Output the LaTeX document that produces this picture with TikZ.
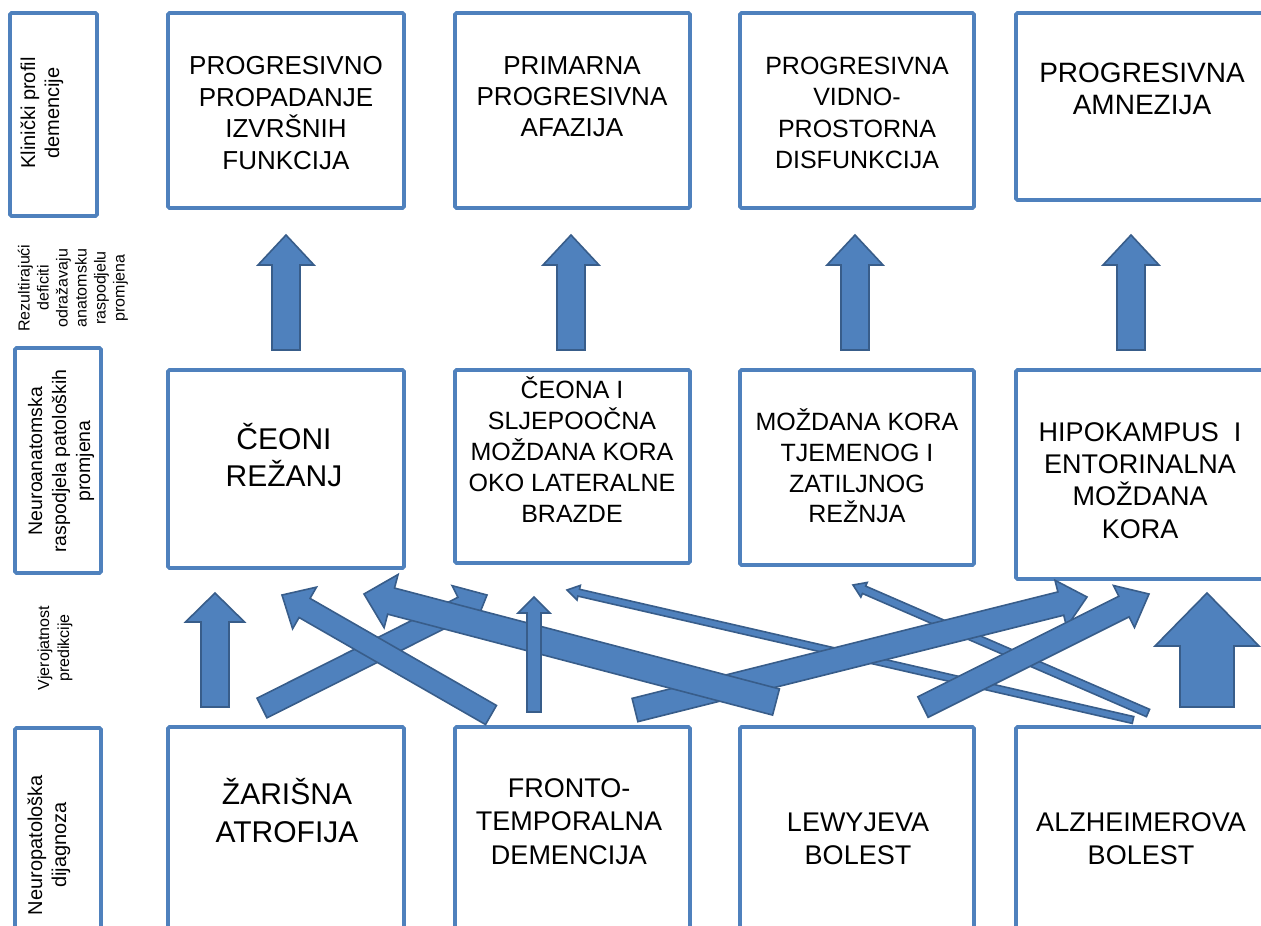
\documentclass[tikz,border=0pt]{standalone}
\usepackage{fontspec}
\setmainfont{Liberation Sans}
\usetikzlibrary{calc}
\definecolor{boxblue}{HTML}{4F81BD}
\definecolor{arrowedge}{HTML}{385D8A}
\newcommand{\sz}[2]{\fontsize{#1}{#2}\selectfont}
% tail, tip, half shaft, half head, head length
\newcommand{\blockarrow}[5]{%
  \coordinate (neck) at ($(#2)!#5pt!(#1)$);
  \draw[blockarr] ($(#1)!#3pt!90:(#2)$) -- ($(neck)!#3pt!90:(#2)$) -- ($(neck)!#4pt!90:(#2)$) -- (#2)
    -- ($(neck)!#4pt!-90:(#2)$) -- ($(neck)!#3pt!-90:(#2)$) -- ($(#1)!#3pt!-90:(#2)$) -- cycle;
}
\tikzset{
  box/.style={draw=boxblue, line width=3.6pt, rounded corners=1.5pt, inner sep=0pt},
  boxtxt/.style={inner sep=0pt, align=center},
  side/.style={inner sep=0pt, align=center, rotate=90},
  blockarr/.style={fill=boxblue, draw=arrowedge, line width=1.6pt, line join=miter}
}
\begin{document}
\begin{tikzpicture}[x=1pt, y=-1pt]
\useasboundingbox[fill=white] (0,0) rectangle (1261,926);

\node[box, minimum width=87, minimum height=203] (klin) at (53.5,114.5) {};
\node[side, font=\sz{20}{24}] (klin-t) at (42,113) {Klinički profil\\demencije};
\node[side, font=\sz{16}{19}] (rez-t) at (73,288) {Rezultirajući\\deficiti\\odražavaju\\anatomsku\\raspodjelu\\promjena};
\node[box, minimum width=86, minimum height=225] (neuro) at (58,460.5) {};
\node[side, font=\sz{19.5}{24}] (neuro-t) at (61,461) {Neuroanatomska\\raspodjela patoloških\\promjena};
\node[side, font=\sz{16}{20}] (vjer-t) at (55,648) {Vjerojatnost\\predikcije};
\node[box, minimum width=86, minimum height=222] (dijag) at (58,839) {};
\node[side, font=\sz{20}{24}] (dijag-t) at (49,845) {Neuropatološka\\dijagnoza};

\node[box, minimum width=236, minimum height=195] (izvr) at (286,110.5) {};
\node[box, minimum width=235, minimum height=195] (afaz) at (572.5,110.5) {};
\node[box, minimum width=234, minimum height=195] (vidno) at (857,110.5) {};
\node[box, minimum width=260, minimum height=187] (amnez) at (1146,106.5) {};
\node[boxtxt, font=\sz{26}{31.4}] (izvr-t) at (286,113) {PROGRESIVNO\\PROPADANJE\\IZVRŠNIH\\FUNKCIJA};
\node[boxtxt, font=\sz{26}{31}] (afaz-t) at (572,97) {PRIMARNA\\PROGRESIVNA\\AFAZIJA};
\node[boxtxt, font=\sz{25}{31.4}] (vidno-t) at (857,113) {PROGRESIVNA\\VIDNO-\\PROSTORNA\\DISFUNKCIJA};
\node[boxtxt, font=\sz{28}{32}] (amnez-t) at (1142,89) {PROGRESIVNA\\AMNEZIJA};

\node[box, minimum width=236, minimum height=198] (ceoni) at (286,469) {};
\node[box, minimum width=235, minimum height=193] (slje) at (572.5,466.5) {};
\node[box, minimum width=234, minimum height=195] (tjem) at (857,467.5) {};
\node[box, minimum width=260, minimum height=209] (hipo) at (1146,474.5) {};
\node[boxtxt, font=\sz{30}{37}] (ceoni-t) at (284,455.5) {ČEONI\\REŽANJ};
\node[boxtxt, font=\sz{25}{30.8}] (slje-t) at (572,449.5) {ČEONA I\\SLJEPOOČNA\\MOŽDANA KORA\\OKO LATERALNE\\BRAZDE};
\node[boxtxt, font=\sz{25}{30.7}] (tjem-t) at (857,466) {MOŽDANA KORA\\TJEMENOG I\\ZATILJNOG\\REŽNJA};
\node[boxtxt, font=\sz{27}{32.3}] (hipo-t) at (1140,480.5) {HIPOKAMPUS\ \ I\\ENTORINALNA\\MOŽDANA\\KORA};

\node[box, minimum width=236, minimum height=220] (zar) at (286,837) {};
\node[box, minimum width=235, minimum height=220] (fronto) at (572.5,837) {};
\node[box, minimum width=234, minimum height=220] (lewy) at (857,837) {};
\node[box, minimum width=260, minimum height=220] (alz) at (1146,837) {};
\node[boxtxt, font=\sz{30}{38}] (zar-t) at (287,811) {ŽARIŠNA\\ATROFIJA};
\node[boxtxt, font=\sz{27}{33.5}] (fronto-t) at (569,821.5) {FRONTO-\\TEMPORALNA\\DEMENCIJA};
\node[boxtxt, font=\sz{27}{33}] (lewy-t) at (858,838.5) {LEWYJEVA\\BOLEST};
\node[boxtxt, font=\sz{27}{33}] (alz-t) at (1141,838.5) {ALZHEIMEROVA\\BOLEST};

\coordinate (up1a) at (286,350); \coordinate (up1b) at (286,235);
\coordinate (up2a) at (571,350); \coordinate (up2b) at (571,235);
\coordinate (up3a) at (855,350); \coordinate (up3b) at (855,235);
\coordinate (up4a) at (1131,350); \coordinate (up4b) at (1131,235);
\blockarrow{up1a}{up1b}{14}{28}{30}
\blockarrow{up2a}{up2b}{14}{28}{30}
\blockarrow{up3a}{up3b}{14}{28}{30}
\blockarrow{up4a}{up4b}{14}{28}{30}

\coordinate (alz-s1) at (1133,720); \coordinate (slje-e1) at (567,590);
\coordinate (alz-s2) at (1148,713); \coordinate (tjem-e1) at (853,585);
\coordinate (zar-s1) at (262,708); \coordinate (slje-e2) at (487,595);
\coordinate (fro-s1) at (635,710); \coordinate (hipo-e1) at (1087,597);
\coordinate (lewy-s1) at (923,707); \coordinate (hipo-e2) at (1149,594);
\coordinate (fro-s2) at (491,715); \coordinate (ceo-e1) at (282,595);
\coordinate (lewy-s2) at (776,702); \coordinate (ceo-e2) at (364,594);
\coordinate (fro-s3) at (534,712); \coordinate (slje-e3) at (534,597);
\coordinate (zar-s2) at (215,707); \coordinate (ceo-e3) at (215,593);
\coordinate (alz-s3) at (1207,707); \coordinate (hipo-e3) at (1207,593);
\blockarrow{alz-s1}{slje-e1}{3.5}{7.5}{12}
\blockarrow{alz-s2}{tjem-e1}{4}{8}{12}
\blockarrow{zar-s1}{slje-e2}{11}{24}{27}
\blockarrow{fro-s1}{hipo-e1}{12}{24}{27}
\blockarrow{lewy-s1}{hipo-e2}{11.5}{23.5}{28}
\blockarrow{fro-s2}{ceo-e1}{11}{24}{26}
\blockarrow{lewy-s2}{ceo-e2}{13.5}{27.5}{28}
\blockarrow{fro-s3}{slje-e3}{7}{16}{16}
\blockarrow{zar-s2}{ceo-e3}{14}{29.5}{29}
\blockarrow{alz-s3}{hipo-e3}{27}{52}{53}
\end{tikzpicture}
\end{document}
